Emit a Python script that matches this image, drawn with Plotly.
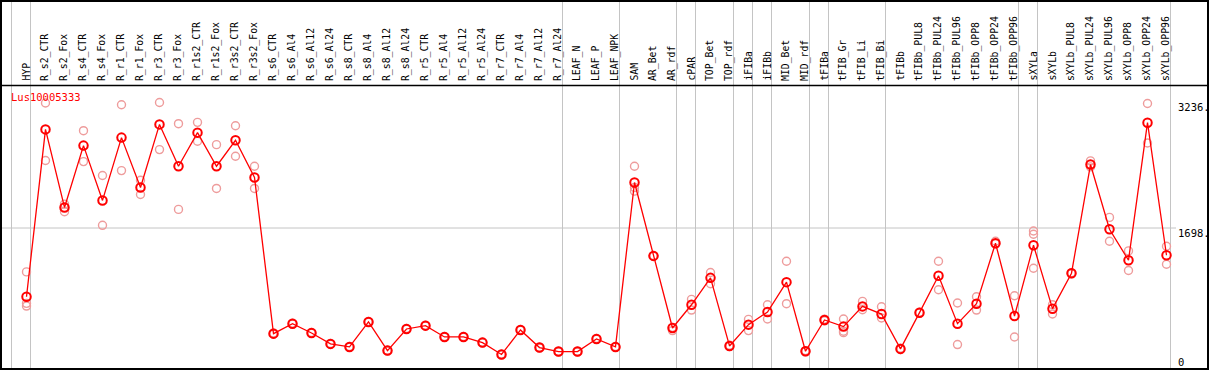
import plotly.graph_objects as go

W, H = 1209, 370

categories = ["HYP", "R_s2_CTR", "R_s2_Fox", "R_s4_CTR", "R_s4_Fox", "R_r1_CTR", "R_r1_Fox",
              "R_r3_CTR", "R_r3_Fox", "R_r1s2_CTR", "R_r1s2_Fox", "R_r3s2_CTR", "R_r3s2_Fox",
              "R_s6_CTR", "R_s6_Al4", "R_s6_Al12", "R_s6_Al24", "R_s8_CTR", "R_s8_Al4",
              "R_s8_Al12", "R_s8_Al24", "R_r5_CTR", "R_r5_Al4", "R_r5_Al12", "R_r5_Al24",
              "R_r7_CTR", "R_r7_Al4", "R_r7_Al12", "R_r7_Al24", "LEAF_N", "LEAF_P", "LEAF_NPK",
              "SAM", "AR_Bet", "AR_rdf", "cPAR", "TOP_Bet", "TOP_rdf", "iFIBa", "iFIBb",
              "MID_Bet", "MID_rdf", "tFIBa", "tFIB_Gr", "tFIB_Li", "tFIB_Bi", "tFIBb",
              "tFIBb_PUL8", "tFIBb_PUL24", "tFIBb_PUL96", "tFIBb_OPP8", "tFIBb_OPP24",
              "tFIBb_OPP96", "sXYLa", "sXYLb", "sXYLb_PUL8", "sXYLb_PUL24", "sXYLb_PUL96",
              "sXYLb_OPP8", "sXYLb_OPP24", "sXYLb_OPP96"]

mean_values = [855, 2907, 1950, 2708, 2036, 2806, 2195, 2968, 2455, 2867, 2455, 2773, 2317,
               403, 525, 411, 277, 240, 546, 195, 460, 501, 362, 362, 293, 147, 448, 232, 183,
               183, 338, 240, 2256, 1356, 472, 757, 1087, 252, 513, 668, 1034, 187, 570, 489,
               737, 643, 216, 660, 1112, 525, 770, 1511, 619, 1486, 709, 1144, 2476, 1682,
               1303, 2989, 1364]

rep_a = [1160, 3230, 1991, 2891, 2341, 3209, 2284, 3236, 2977, 2993, 2720, 2952, 2455,
         410, 530, 416, 282, 245, 551, 200, 465, 506, 367, 367, 298, 152, 453, 237, 188,
         188, 343, 245, 2455, 1360, 480, 823, 1152, 260, 578, 757, 1291, 195, 580, 582,
         798, 733, 225, 665, 1291, 778, 855, 1535, 867, 1661, 757, 1150, 2521, 1828,
         1417, 3225, 1474]
rep_b = [774, 2525, 1898, 2512, 1731, 2402, 2109, 2659, 1926, 2761, 2183, 2578, 2183,
         396, 520, 406, 272, 235, 541, 190, 455, 496, 357, 357, 288, 142, 443, 227, 178,
         178, 333, 235, 2195, 1350, 440, 692, 1014, 245, 440, 582, 770, 180, 560, 432,
         696, 595, 207, 655, 941, 269, 692, 1503, 362, 1621, 643, 1138, 2447, 1535,
         1177, 2740, 1254]
rep_c = [741, None, None, None, None, None, None, None, None, None, None, None, None,
         None, None, None, None, None, None, None, None, None, None, None, None, None, None,
         None, None, None, None, None, 2150, None, None, None, None, None, None, None, None,
         None, None, 415, None, None, None, None, None, None, None, None, None, 1205, None,
         None, None, None, None, None, None]

# indices after which a group separator is drawn (-1 = before the first category)
separators_after = [-1, 0, 28, 31, 34, 35, 37, 38, 39, 41, 42, 45, 52, 53, 60]
axis_labels = [("3236.", 3236), ("1698.", 1698), ("0", 0)]
gene_name = "Lus10005333"

# ---- pixel geometry ----
STEP = 19.0
X0PX = 26.5
XA = -X0PX / STEP
XB = XA + W / STEP
SY = 0.081567
YLO = -3.5 / SY
YHI = YLO + H / SY


def xp(px):
    return px / W


def yp(py):
    return 1 - py / H


FONT = "DejaVu Sans Mono"
fig = go.Figure()

idx = list(range(len(categories)))

for reps in (rep_a, rep_b, rep_c):
    xs = [i for i, r in zip(idx, reps) if r is not None]
    ys = [r for r in reps if r is not None]
    fig.add_trace(go.Scatter(
        x=xs, y=ys, mode="markers", hoverinfo="skip", showlegend=False,
        marker=dict(symbol="circle-open", size=8, color="#ee9c9c", line=dict(width=1.4))))

fig.add_trace(go.Scatter(
    x=idx, y=mean_values, mode="lines+markers", showlegend=False,
    line=dict(color="#ff0000", width=1.3),
    marker=dict(symbol="circle-open", size=8.5, color="#ff0000", line=dict(width=2)),
    text=categories, hovertemplate="%{text}: %{y}<extra></extra>"))

shapes = []
# horizontal grid line at 1698
shapes.append(dict(type="line", xref="paper", yref="y", x0=0, x1=xp(1176), y0=1698, y1=1698,
                   line=dict(color="#c4c4c4", width=1), layer="below"))
# vertical separators
for s in separators_after:
    xd = s + 4.0 / STEP
    shapes.append(dict(type="line", xref="x", yref="paper", x0=xd, x1=xd, y0=0, y1=1,
                       line=dict(color="#c4c4c4", width=1), layer="below"))
# header line
shapes.append(dict(type="line", xref="paper", yref="paper", x0=0, x1=1, y0=yp(85.5), y1=yp(85.5),
                   line=dict(color="black", width=1.5)))
# outer border
shapes.append(dict(type="rect", xref="paper", yref="paper", x0=xp(1), x1=xp(1208),
                   y0=yp(369), y1=yp(1), line=dict(color="black", width=2)))

annotations = []
for i, c in enumerate(categories):
    annotations.append(dict(x=i - 0.05, y=yp(83), xref="x", yref="paper", text=c,
                            textangle=-90, showarrow=False, xanchor="center", yanchor="bottom",
                            font=dict(family=FONT, size=9.8, color="black")))

label_py = {3236: 106.7, 1698: 232.5, 0: 361.5}
for txt, v in axis_labels:
    annotations.append(dict(x=xp(1176), y=yp(label_py[v]), xref="paper", yref="paper",
                            text=txt, showarrow=False, xanchor="left", yanchor="middle",
                            font=dict(family=FONT, size=10.5, color="black")))

annotations.append(dict(x=xp(9), y=yp(97), xref="paper", yref="paper", text=gene_name,
                        showarrow=False, xanchor="left", yanchor="middle",
                        font=dict(family=FONT, size=10.5, color="#ff0000")))

fig.update_layout(
    width=W, height=H, margin=dict(l=0, r=0, t=0, b=0, pad=0),
    paper_bgcolor="white", plot_bgcolor="white",
    xaxis=dict(range=[XA, XB], visible=False, fixedrange=True),
    yaxis=dict(range=[YLO, YHI], visible=False, fixedrange=True),
    shapes=shapes, annotations=annotations, showlegend=False)

fig.write_html("out.html", config={"displayModeBar": False},
               post_script="document.body.style.margin='0';document.body.style.overflow='hidden';")
